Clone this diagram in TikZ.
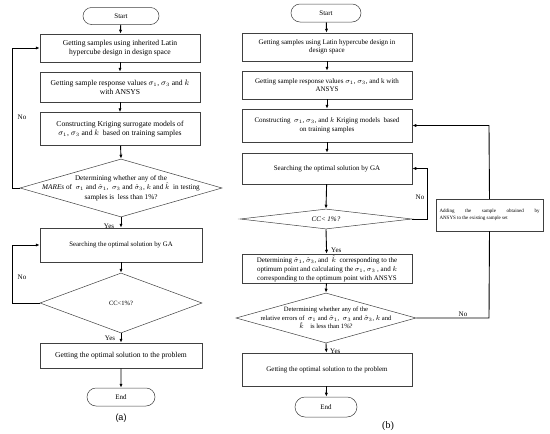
\documentclass[tikz,border=0pt]{standalone}
\usepackage{fontspec}
\setmainfont{Liberation Serif}
\newfontfamily\labsans{Liberation Sans}
\usetikzlibrary{shapes.geometric,shapes.misc,arrows.meta}
\tikzset{
  box/.style={draw=black!75, line width=0.5pt, rectangle, align=center, inner sep=1pt,
    font=\fontsize{7.6}{9.4}\selectfont},
  term/.style={draw=black!75, line width=0.5pt, rounded rectangle, inner sep=0pt,
    font=\fontsize{7}{8}\selectfont},
  dia/.style={draw=black!75, line width=0.5pt, diamond, inner sep=0pt},
  diatext/.style={align=center, inner sep=0pt, font=\fontsize{7.2}{8.6}\selectfont},
  arr/.style={-{Latex[length=4pt,width=3.2pt]}, line width=0.9pt},
  lin/.style={line width=0.9pt},
  lab/.style={inner sep=0pt, font=\fontsize{7}{8}\selectfont},
}
\begin{document}
\begin{tikzpicture}[x=1pt,y=-1pt]
\useasboundingbox (0,0) rectangle (550,434);
% ---------- (a) ----------
\node[term, minimum width=76pt, minimum height=17pt] (as) at (121,16) {Start};
\node[box, minimum width=160pt, minimum height=28pt] (a1) at (120,48)
  {Getting samples using inherited Latin\\hypercube design in design space};
\node[box, minimum width=160pt, minimum height=30pt] (a2) at (120,87)
  {Getting sample response values $\sigma_1$, $\sigma_3$ and $k$\\with ANSYS};
\node[box, minimum width=160pt, minimum height=33pt] (a3) at (120,129)
  {Constructing Kriging surrogate models of\\$\sigma_1$, $\sigma_3$ and $k$\ \ based on training samples};
\node[dia, minimum width=202pt, minimum height=58pt] (ad1) at (121,188) {};
\node[diatext, font=\fontsize{7.2}{9.4}\selectfont] (ad1t) at (121,188)
  {Determining whether any of the\\\textit{MAREs} of\ \ $\sigma_1$ and $\hat\sigma_1$,\ \ $\sigma_3$ and $\hat\sigma_3$, $k$ and $\hat k$\ \ in testing\\samples is\ \ less than 1\%?};
\node[box, minimum width=162pt, minimum height=34pt, font=\fontsize{6.8}{8}\selectfont] (a4) at (121,245)
  {Searching the optimal solution by GA};
\node[dia, minimum width=162pt, minimum height=60pt] (ad2) at (121,303) {};
\node[diatext, font=\fontsize{6.5}{8}\selectfont] (ad2t) at (121,303) {CC<1\%?};
\node[box, minimum width=162pt, minimum height=25pt] (a5) at (121,355.5)
  {Getting the optimal solution to the problem};
\node[term, minimum width=68pt, minimum height=18pt] (ae) at (121,397) {End};
\node[inner sep=0pt, font=\labsans\fontsize{9}{10}\selectfont] (acap) at (121,418) {(a)};
\coordinate (al1) at (12,188);
\coordinate (al2) at (12,303);
\draw[arr] (as) -- (a1);
\draw[arr] (a1) -- (a2);
\draw[arr] (a2) -- (a3);
\draw[arr] (a3) -- (ad1.north);
\draw[arr] (ad1.south) -- (a4);
\draw[arr] (a4) -- (ad2.north);
\draw[arr] (ad2.south) -- (a5);
\draw[arr] (a5) -- (ae);
\draw[arr] (ad1.west) -- (al1) |- (a1.west);
\draw[arr] (ad2.west) -- (al2) |- (a4.west);
\node[lab] (ano1) at (22,117) {No};
\node[lab] (ano2) at (22,277) {No};
\node[lab] (ayes1) at (109,226) {Yes};
\node[lab] (ayes2) at (110,338) {Yes};
% ---------- (b) ----------
\node[term, minimum width=70pt, minimum height=18pt] (bs) at (326,13) {Start};
\node[box, minimum width=170pt, minimum height=28pt, font=\fontsize{7}{8.6}\selectfont] (b1) at (327,47)
  {Getting samples using Latin hypercube design in\\design space};
\node[box, minimum width=170pt, minimum height=28pt, font=\fontsize{7}{8.6}\selectfont] (b2) at (327,85)
  {Getting sample response values $\sigma_1$, $\sigma_3$, and k with\\ANSYS};
\node[box, minimum width=170pt, minimum height=33pt, font=\fontsize{7}{8.6}\selectfont] (b3) at (327,125.5)
  {Constructing\ \ $\sigma_1$, $\sigma_3$, and $k$ Kriging models\ \ based\\on training samples};
\node[box, minimum width=170pt, minimum height=31pt, font=\fontsize{7}{8.6}\selectfont] (b4) at (327,168.5)
  {Searching the optimal solution by GA};
\node[dia, minimum width=172pt, minimum height=20pt] (bd1) at (326,219) {};
\node[diatext, font=\itshape\fontsize{7}{8}\selectfont] (bd1t) at (326,219) {CC< 1\%?};
\node[box, minimum width=170pt, minimum height=29pt, font=\fontsize{7}{9}\selectfont] (b5) at (327,268.5)
  {Determining $\hat\sigma_1$, $\hat\sigma_3$, and\ \ $\hat k$\ \ corresponding to the\\optimum point and calculating the $\sigma_1$, $\sigma_3$\ , and $k$\\corresponding to the optimum point with ANSYS};
\node[dia, minimum width=180pt, minimum height=50pt] (bd2) at (326,318) {};
\node[diatext, font=\fontsize{6.6}{8.6}\selectfont] (bd2t) at (326,318)
  {Determining whether any of the\\relative errors of\ \ $\sigma_1$ and $\hat\sigma_1$,\ \ $\sigma_3$ and $\hat\sigma_3$, $k$ and\\$\hat k$\quad is less than 1\%?};
\node[box, minimum width=170pt, minimum height=33pt, font=\fontsize{7}{8.6}\selectfont] (b6) at (327,369.5)
  {Getting the optimal solution to the problem};
\node[term, minimum width=62pt, minimum height=20pt] (be) at (326,407) {End};
\node[box, minimum width=107pt, minimum height=32pt, align=left, font=\fontsize{5}{6.4}\selectfont] (bside) at (489.5,215)
  {\makebox[100pt][s]{Adding the sample obtained by}\\ANSYS to the existing sample set};
\node[inner sep=0pt, font=\fontsize{10}{11}\selectfont] (bcap) at (388,426) {(b)};
\coordinate (bl1) at (427,219);
\coordinate (bl2) at (489,318);
\coordinate (bl3) at (489,125.5);
\draw[arr] (bs) -- (b1);
\draw[arr] (b1) -- (b2);
\draw[arr] (b2) -- (b3);
\draw[arr] (b3) -- (b4);
\draw[arr] (b4) -- (bd1.north);
\draw[arr] (bd1.south) -- (b5);
\draw[arr] (b5) -- (bd2.north);
\draw[arr] (bd2.south) -- (b6);
\draw[arr] (b6) -- (be);
\draw[arr] (bd1.east) -- (bl1) |- (b4.east);
\draw[lin] (bd2.east) -- (bl2) -- (bside.south);
\draw[arr] (bside.north) -- (bl3) -- (b3.east);
\node[lab] (bno1) at (420,197) {No};
\node[lab] (bno2) at (463,314) {No};
\node[lab, anchor=west] (byes1) at (331,250) {Yes};
\node[lab, anchor=west] (byes2) at (330,351) {Yes};
\end{tikzpicture}
\end{document}
